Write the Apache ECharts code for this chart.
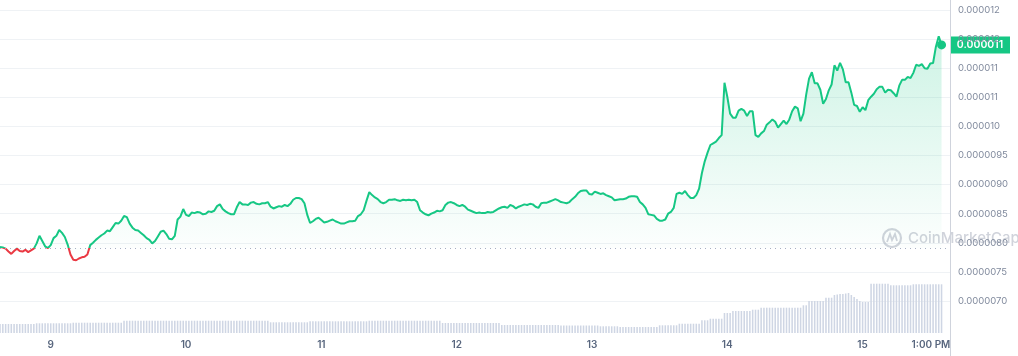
<!DOCTYPE html>
<html><head><meta charset="utf-8">
<script src="https://cdn.jsdelivr.net/npm/echarts@6/dist/echarts.min.js"></script>
<style>html,body{margin:0;padding:0;background:#fff}#c{width:1018px;height:356px}</style>
</head><body><div id="c"></div>
<script>
// time slots: 30-minute samples starting day 8, 15:00
const startDay = 8, startHour = 15, stepMinutes = 30, extraSlots = 3;

// price in units of 1e-6
const price = [
7.93,7.92,7.90,7.85,7.81,7.86,7.90,7.86,7.85,7.88,
7.84,7.87,7.90,7.99,8.12,8.03,7.94,7.91,7.96,8.08,
8.12,8.22,8.17,8.10,7.97,7.80,7.71,7.70,7.73,7.75,
7.76,7.80,7.96,8.00,8.05,8.09,8.13,8.16,8.21,8.20,
8.27,8.34,8.33,8.38,8.46,8.44,8.33,8.26,8.22,8.21,
8.17,8.13,8.08,8.05,7.99,8.03,8.11,8.19,8.21,8.15,
8.07,8.06,8.12,8.40,8.45,8.58,8.48,8.46,8.52,8.51,
8.53,8.52,8.49,8.50,8.54,8.53,8.55,8.63,8.66,8.58,
8.54,8.51,8.49,8.49,8.61,8.70,8.66,8.66,8.65,8.69,
8.70,8.67,8.66,8.68,8.68,8.70,8.62,8.59,8.61,8.63,
8.62,8.65,8.63,8.67,8.74,8.77,8.77,8.75,8.68,8.48,
8.34,8.37,8.41,8.43,8.39,8.35,8.36,8.38,8.40,8.37,
8.35,8.33,8.33,8.35,8.37,8.37,8.38,8.46,8.49,8.56,
8.72,8.87,8.82,8.78,8.75,8.70,8.68,8.70,8.74,8.74,
8.75,8.73,8.72,8.74,8.73,8.74,8.73,8.74,8.70,8.56,
8.52,8.49,8.47,8.50,8.52,8.55,8.54,8.56,8.65,8.69,
8.70,8.68,8.65,8.63,8.65,8.62,8.57,8.55,8.53,8.51,
8.52,8.51,8.51,8.53,8.52,8.53,8.56,8.59,8.61,8.62,
8.60,8.65,8.63,8.59,8.62,8.64,8.66,8.65,8.67,8.66,
8.62,8.60,8.68,8.69,8.69,8.71,8.73,8.75,8.73,8.70,
8.69,8.68,8.70,8.75,8.79,8.85,8.89,8.90,8.90,8.84,
8.83,8.88,8.86,8.84,8.85,8.82,8.80,8.78,8.73,8.74,
8.75,8.75,8.76,8.79,8.80,8.80,8.79,8.70,8.66,8.60,
8.49,8.48,8.47,8.41,8.38,8.38,8.40,8.50,8.53,8.60,
8.84,8.86,8.84,8.89,8.82,8.77,8.77,8.82,8.93,9.20,
9.40,9.55,9.68,9.71,9.74,9.80,9.85,10.75,10.51,10.22,
10.15,10.15,10.27,10.30,10.27,10.18,10.26,10.26,9.85,9.82,
9.88,9.92,10.03,10.07,10.12,10.08,9.98,10.04,10.10,10.04,
10.12,10.26,10.34,10.31,10.09,10.22,10.55,10.82,10.93,10.74,
10.74,10.63,10.39,10.47,10.62,10.72,11.05,10.96,11.09,10.98,
10.76,10.76,10.58,10.37,10.35,10.25,10.33,10.28,10.45,10.51,
10.56,10.64,10.68,10.68,10.58,10.63,10.62,10.57,10.51,10.70,
10.80,10.80,10.85,10.83,10.92,11.06,11.04,11.07,11.00,10.99,
11.08,11.09,11.37,11.55,11.40
];

// rolling volume (relative units)
const volume = [
9,9,9,9,9,9,9,9,9,9,9,9,9,
9.7,9.7,9.7,9.7,9.7,9.7,9.7,9.7,9.7,9.7,9.7,9.7,9.7,
10.3,10.3,10.3,10.3,10.3,10.3,10.3,10.3,10.3,10.3,10.3,10.3,10.3,10.3,10.3,10.3,10.3,10.3,
12.3,12.3,12.3,12.3,12.3,12.3,12.3,12.3,12.3,12.3,
12.3,12.3,12.3,12.3,12.3,12.3,12.3,12.3,12.3,12.3,
12.3,12.3,12.3,12.3,12.3,12.3,12.3,12.3,12.3,12.3,
12.3,12.3,12.3,12.3,12.3,12.3,12.3,12.3,12.3,12.3,
12.3,12.3,12.3,12.3,12.3,12.3,12.3,12.3,12.3,12.3,
12.3,12.3,
10.7,10.7,10.7,10.7,10.7,10.7,10.7,10.7,10.7,10.7,10.7,10.7,10.7,10.7,
11.7,11.7,11.7,11.7,11.7,11.7,11.7,11.7,11.7,11.7,11.7,11.7,11.7,11.7,11.7,11.7,11.7,11.7,11.7,11.7,11.7,
12.3,12.3,12.3,12.3,12.3,12.3,12.3,12.3,12.3,12.3,12.3,12.3,12.3,
12.3,12.3,12.3,12.3,12.3,12.3,12.3,12.3,12.3,12.3,12.3,12.3,12.3,
10,10,10,10,10,10,10,10,10,10,10,10,10,10,10,10,10,10,10,10,10,
8,8,8,8,8,8,8,8,8,8,8,8,8,8,8,8,8,8,8,8,8,
7.5,7.5,7.5,7.5,7.5,7.5,7.5,7.5,7.5,7.5,7.5,7.5,7.5,7.5,
6.7,6.7,6.7,6.7,6.7,6.7,6.7,
6,6,6,6,6,6,6,6,6,6,6,6,6,6,
7.7,7.7,7.7,7.7,7.7,7.7,7.7,
9.3,9.3,9.3,9.3,9.3,9.3,9.3,9.3,
12.7,12.7,12.7,
14.3,14.3,14.3,14.3,14.3,
20,20,20,
22,22,22,22,22,22,22,
23.3,23.3,23.3,
25.3,25.3,25.3,25.3,25.3,25.3,25.3,25.3,25.3,25.3,25.3,25.3,25.3,25.3,25.3,
27.7,27.7,
32,32,32,32,32,32,
35.3,35.3,35.3,
38,38.5,39,39,39.5,40,38,
36,34,32,31,31,31,
49.3,49.3,49.3,49.3,49.3,49.3,49.3,
47.7,47.7,47.7,47.7,47.7,47.7,47.7,47.7,
48.7,48.7,48.7,48.7,48.7,48.7,48.7,48.7,48.7,48.7,48.7
];

const baselinePrice = 7.91;
const currentPriceLabel = '0.000011';
const yTickValues = [7, 7.5, 8, 8.5, 9, 9.5, 10, 10.5, 11, 11.5, 12];
const yTickLabels = ['0.0000070','0.0000075','0.0000080','0.0000085','0.0000090','0.0000095','0.000010','0.000011','0.000011','0.000012','0.000012'];
const xTickCats = ['9 00:00','10 00:00','11 00:00','12 00:00','13 00:00','14 00:00','15 00:00','15 13:00'];
const xTickLabels = ['9','10','11','12','13','14','15','1:00 PM'];

const categories = [];
for (let i = 0; i < price.length + extraSlots; i++) {
  const mins = startHour * 60 + i * stepMinutes;
  const d = startDay + Math.floor(mins / 1440);
  const m = mins % 1440;
  categories.push(d + ' ' + String(Math.floor(m / 60)).padStart(2, '0') + ':' + String(m % 60).padStart(2, '0'));
}

const GREEN = '#16c784', RED = '#ea3943';
const FONT = 'Inter, "Noto Sans", sans-serif';
const H = 356;
const chart = echarts.init(document.getElementById('c'), null, { renderer: 'canvas' });
const lastIdx = price.length - 1;

chart.setOption({
  animation: false,
  backgroundColor: '#ffffff',
  grid: [
    { left: 0, right: 68, top: 10, bottom: 55 },
    { left: 0, right: 68, top: 0, bottom: 0 }
  ],
  xAxis: [
    {
      type: 'category', gridIndex: 0, data: categories, boundaryGap: false,
      axisLine: { show: false }, axisTick: { show: false }, splitLine: { show: false },
      axisLabel: {
        interval: (idx, val) => xTickCats.indexOf(val) >= 0,
        formatter: v => {
          const k = xTickCats.indexOf(v);
          if (k < 0) return '';
          return k === xTickLabels.length - 1 ? '{e|' + xTickLabels[k] + '}' : xTickLabels[k];
        },
        margin: 39, color: '#58667e', fontSize: 10, fontWeight: 600, fontFamily: FONT,
        rich: { e: { padding: [0, 10, 0, 0], color: '#58667e', fontSize: 10, fontWeight: 600, fontFamily: FONT } }
      }
    },
    { type: 'category', gridIndex: 1, data: categories, boundaryGap: false, show: false }
  ],
  yAxis: [
    {
      type: 'value', gridIndex: 0, position: 'right', min: 7, max: 12, interval: 0.5,
      axisLine: { show: false }, axisTick: { show: false },
      splitLine: { lineStyle: { color: '#eff2f5', width: 1 } },
      axisLabel: {
        margin: 8, color: '#808a9d', fontSize: 9.5, fontFamily: FONT,
        formatter: v => {
          const k = yTickValues.findIndex(t => Math.abs(t - v) < 1e-6);
          return k < 0 ? '' : yTickLabels[k];
        }
      }
    },
    {
      type: 'value', gridIndex: 1, position: 'right', min: -23, max: 333,
      axisLine: { show: true, lineStyle: { color: '#cfd3dc', width: 1 } },
      axisTick: { show: false }, axisLabel: { show: false }, splitLine: { show: false }
    }
  ],
  series: [
    {
      id: 'vol', type: 'bar', xAxisIndex: 1, yAxisIndex: 1, data: volume, barWidth: '55%',
      itemStyle: { color: '#cfd6e4' }, silent: true, z: 1
    },
    {
      id: 'price', type: 'line', xAxisIndex: 0, yAxisIndex: 0, data: price, symbol: 'none', showSymbol: false,
      lineStyle: { width: 2, color: GREEN }, z: 3,
      areaStyle: {
        origin: baselinePrice,
        color: { type: 'linear', x: 0, y: 0, x2: 0, y2: 1,
          colorStops: [ { offset: 0, color: 'rgba(22,199,132,0.30)' }, { offset: 1, color: 'rgba(22,199,132,0)' } ] }
      },
      markLine: {
        silent: true, symbol: 'none', label: { show: false },
        lineStyle: { type: [1, 4], color: '#a6b0c3', width: 1 },
        data: [ { yAxis: baselinePrice } ]
      },
      markPoint: {
        silent: true, symbol: 'circle', symbolSize: 9, label: { show: false },
        itemStyle: { color: GREEN },
        data: [ { coord: [categories[lastIdx], price[lastIdx]] } ]
      }
    }
  ]
});

const p = chart.convertToPixel({ gridIndex: 0 }, [categories[lastIdx], price[lastIdx]]);
const axisX = chart.convertToPixel({ gridIndex: 0 }, [categories[categories.length - 1], price[lastIdx]])[0];
const baseY = chart.convertToPixel({ gridIndex: 0 }, [categories[0], baselinePrice])[1];
const f = baseY / H;

chart.setOption({
  series: [
    { id: 'price',
      lineStyle: { color: { type: 'linear', x: 0, y: 0, x2: 0, y2: H, global: true,
        colorStops: [ { offset: 0, color: GREEN }, { offset: f, color: GREEN }, { offset: f, color: RED }, { offset: 1, color: RED } ] } } }
  ],
  graphic: [
    {
      type: 'group', x: 882, y: baseY - 20, z: 1, silent: true,
      children: [
        { type: 'circle', shape: { cx: 10, cy: 10, r: 9 }, style: { fill: 'none', stroke: 'rgba(150,158,175,0.45)', lineWidth: 2.2 } },
        { type: 'polyline', shape: { points: [[5, 14], [8, 6], [10, 12], [13, 6], [15, 13]] }, style: { fill: 'none', stroke: 'rgba(150,158,175,0.45)', lineWidth: 1.8 } },
        { type: 'text', x: 26, y: 10, style: { text: 'CoinMarketCap', fill: 'rgba(150,158,175,0.45)', font: '500 15px ' + FONT, verticalAlign: 'middle' } }
      ]
    },
    {
      type: 'group', x: axisX, y: p[1] - 8.5, z: 100,
      children: [
        { type: 'rect', shape: { x: 0, y: 0, width: 60, height: 17 }, style: { fill: GREEN } },
        { type: 'text', x: 30, y: 8.5, style: { text: currentPriceLabel, fill: '#ffffff', font: '600 10.5px ' + FONT, align: 'center', verticalAlign: 'middle' } }
      ]
    }
  ]
});
</script>
</body></html>
